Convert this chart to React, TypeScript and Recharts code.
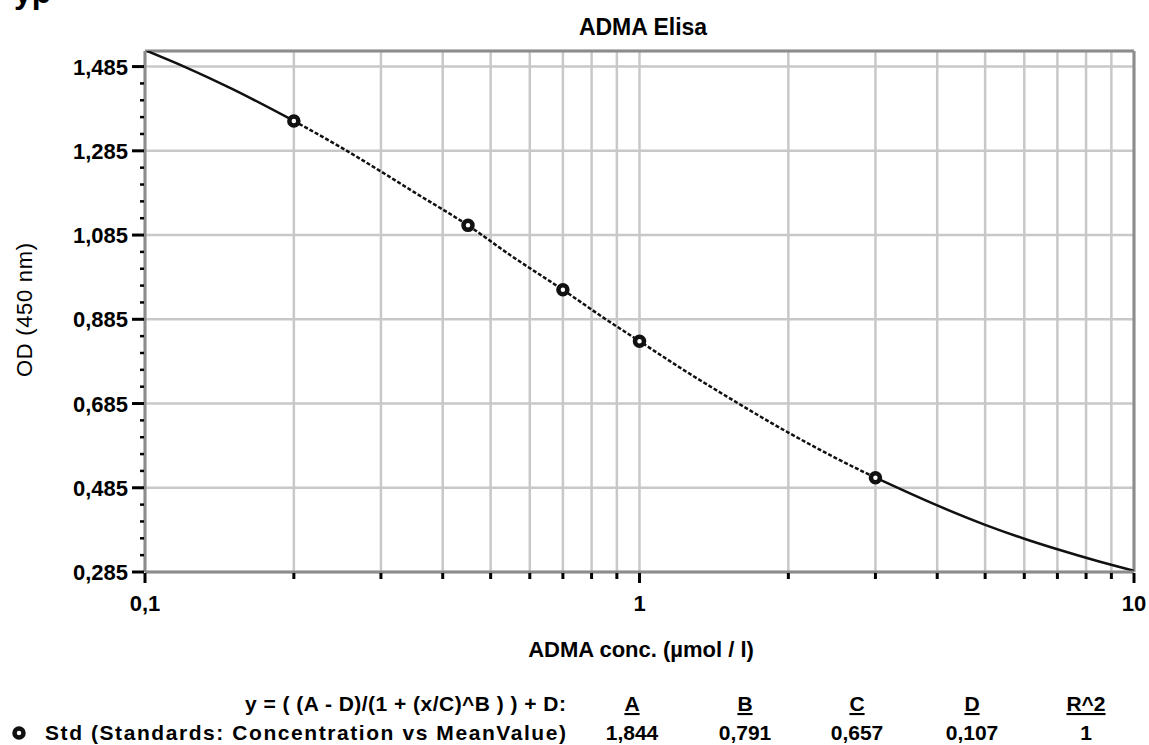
import { ComposedChart, Line, Scatter, XAxis, YAxis, CartesianGrid, ReferenceLine } from "recharts";

const FONT = '"Liberation Sans", Arial, Helvetica, sans-serif';

// standards: concentration (µmol/l) vs mean OD
const stdConc = [0.2, 0.45, 0.7, 1, 3];
const stdOD = [1.356, 1.108, 0.955, 0.833, 0.509];

// fitted curve, split where the line style changes
const lowConc = [0.1, 0.12, 0.15, 0.2];
const lowOD = [1.524, 1.485, 1.432, 1.356];
const midConc = [0.2, 0.25, 0.3, 0.35, 0.45, 0.55, 0.7, 0.85, 1, 1.25, 1.5, 2, 2.5, 3];
const midOD = [1.356, 1.292, 1.236, 1.187, 1.108, 1.036, 0.955, 0.887, 0.833, 0.759, 0.702, 0.616, 0.555, 0.509];
const highConc = [3, 4, 5, 6, 7, 8.5, 10];
const highOD = [0.509, 0.443, 0.397, 0.364, 0.339, 0.31, 0.288];

const xTicks = [0.1, 0.2, 0.3, 0.4, 0.5, 0.6, 0.7, 0.8, 0.9, 1, 2, 3, 4, 5, 6, 7, 8, 9, 10];
const xLabeled = [0.1, 1, 10];
const yMajor = [0.285, 0.485, 0.685, 0.885, 1.085, 1.285, 1.485];
const yTicks = [
  0.285, 0.325, 0.365, 0.405, 0.445, 0.485, 0.525, 0.565, 0.605, 0.645, 0.685,
  0.725, 0.765, 0.805, 0.845, 0.885, 0.925, 0.965, 1.005, 1.045, 1.085, 1.125,
  1.165, 1.205, 1.245, 1.285, 1.325, 1.365, 1.405, 1.445, 1.485,
];
const yMin = 0.285;
const yMax = 1.522;

const paramNames = ["A", "B", "C", "D", "R^2"];
const paramValues = ["1,844", "0,791", "0,657", "0,107", "1"];
const paramCols = [632, 745, 857, 972, 1086];

const toRows = (xs: number[], ys: number[]) => xs.map((x, i) => ({ x, y: ys[i] }));
const lowData = toRows(lowConc, lowOD);
const midData = toRows(midConc, midOD);
const highData = toRows(highConc, highOD);
const stdData = toRows(stdConc, stdOD);

const near = (list: number[], v: number) => list.some((m) => Math.abs(m - v) < 1e-6);
const comma = (v: number, d: number) => v.toFixed(d).replace(".", ",");

function YTick({ x, y, payload }: any) {
  const v = payload.value as number;
  const major = near(yMajor, v);
  return (
    <g>
      <line x1={x - (major ? 13 : 5)} x2={x - 1} y1={y} y2={y} stroke="#000" strokeWidth={major ? 3 : 2.5} />
      {major && (
        <text x={x - 17} y={y + 8} textAnchor="end" fontFamily={FONT} fontWeight="bold" fontSize={22} fill="#000">
          {comma(v, 3)}
        </text>
      )}
    </g>
  );
}

function XTick({ x, y, payload }: any) {
  const v = payload.value as number;
  const major = near(xLabeled, v);
  return (
    <g>
      <line x1={x} x2={x} y1={y + 1} y2={y + (major ? 11 : 7)} stroke="#000" strokeWidth={3} />
      {major && (
        <text x={x} y={y + 39} textAnchor="middle" fontFamily={FONT} fontWeight="bold" fontSize={22} fill="#000">
          {v < 1 ? comma(v, 1) : String(v)}
        </text>
      )}
    </g>
  );
}

function Ring({ cx, cy }: any) {
  return <circle cx={cx} cy={cy} r={4.5} fill="#fff" stroke="#111" strokeWidth={4.5} />;
}

export default function App() {
  return (
    <div style={{ position: "absolute", left: 0, top: 0, width: 1149, height: 745, background: "#fff" }}>
      <ComposedChart width={1149} height={745} margin={{ top: 51, right: 15, bottom: 133, left: 85 }}>
        <CartesianGrid stroke="#c8c8c8" strokeWidth={2.5} yAxisId="grid" />
        <XAxis
          dataKey="x"
          type="number"
          scale="log"
          domain={[0.1, 10]}
          ticks={xTicks}
          interval={0}
          allowDataOverflow
          height={40}
          tickSize={0}
          tickMargin={0}
          tickLine={false}
          axisLine={{ stroke: "#8c8c8c", strokeWidth: 3 }}
          tick={<XTick />}
        />
        <YAxis
          type="number"
          domain={[yMin, yMax]}
          ticks={yTicks}
          interval={0}
          allowDataOverflow
          width={60}
          tickSize={0}
          tickMargin={0}
          tickLine={false}
          axisLine={{ stroke: "#8c8c8c", strokeWidth: 3 }}
          tick={<YTick />}
        />
        <YAxis yAxisId="grid" type="number" domain={[yMin, yMax]} ticks={yMajor} interval={0} allowDataOverflow hide />
        <ReferenceLine y={yMax} stroke="#8c8c8c" strokeWidth={3} ifOverflow="visible" />
        <ReferenceLine x={10} stroke="#8c8c8c" strokeWidth={3} ifOverflow="visible" />
        <Line data={lowData} dataKey="y" type="monotone" stroke="#111" strokeWidth={2.5} dot={false} isAnimationActive={false} />
        <Line data={midData} dataKey="y" type="monotone" stroke="#111" strokeWidth={2.5} strokeDasharray="4 2" dot={false} isAnimationActive={false} />
        <Line data={highData} dataKey="y" type="monotone" stroke="#111" strokeWidth={2.5} dot={false} isAnimationActive={false} />
        <Scatter data={stdData} dataKey="y" shape={<Ring />} isAnimationActive={false} />
      </ComposedChart>

      <svg width={1149} height={745} style={{ position: "absolute", left: 0, top: 0, pointerEvents: "none" }}>
        <text x={14} y={3} fontFamily={FONT} fontWeight="bold" fontSize={32} fill="#000">yp</text>
        <text x={643} y={35} textAnchor="middle" fontFamily={FONT} fontWeight="bold" fontSize={23} fill="#000">
          ADMA Elisa
        </text>
        <text
          x={0}
          y={0}
          transform="translate(32 310) rotate(-90)"
          textAnchor="middle"
          fontFamily={FONT}
          fontSize={22}
          fill="#000"
          textLength={134}
          lengthAdjust="spacing"
        >
          OD (450 nm)
        </text>
        <text x={641} y={657} textAnchor="middle" fontFamily={FONT} fontWeight="bold" fontSize={22} fill="#000">
          ADMA conc. (µmol / l)
        </text>
        <text x={245} y={711} fontFamily={FONT} fontWeight="bold" fontSize={21} fill="#000" textLength={321} lengthAdjust="spacing">
          {"y = ( (A - D)/(1 + (x/C)^B ) ) + D:"}
        </text>
        <circle cx={19} cy={733} r={4.5} fill="#fff" stroke="#111" strokeWidth={4.5} />
        <text x={45} y={740} fontFamily={FONT} fontWeight="bold" fontSize={21} fill="#000" textLength={521} lengthAdjust="spacing">
          Std (Standards: Concentration vs MeanValue)
        </text>
        {paramNames.map((n, i) => (
          <text key={n} x={paramCols[i]} y={711} textAnchor="middle" fontFamily={FONT} fontWeight="bold" fontSize={21} fill="#000" textDecoration="underline">
            {n}
          </text>
        ))}
        {paramValues.map((v, i) => (
          <text key={i} x={paramCols[i]} y={740} textAnchor="middle" fontFamily={FONT} fontWeight="bold" fontSize={21} fill="#000">
            {v}
          </text>
        ))}
      </svg>
    </div>
  );
}
